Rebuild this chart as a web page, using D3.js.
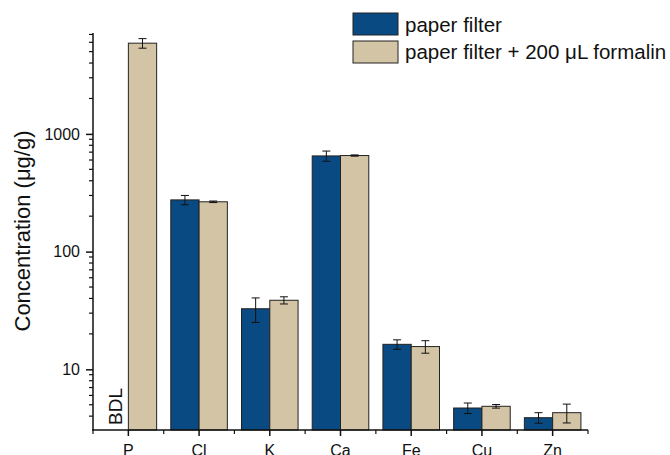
<!DOCTYPE html>
<html><head><meta charset="utf-8">
<script src="https://cdn.jsdelivr.net/npm/d3@7"></script>
<style>body{margin:0;background:#fff}svg{display:block}text{font-family:"Liberation Sans",Arial,sans-serif;fill:#111}</style>
</head><body>
<script>
const categories = ["P","Cl","K","Ca","Fe","Cu","Zn"];
const seriesNames = ["paper filter","paper filter + 200 \u03BCL formalin"];
const paperFilter = [null, 275, 32.7, 650, 16.3, 4.69, 3.88];
const paperFilterErr = [null, 25, 7.7, 65, 1.5, 0.48, 0.4];
const formalin = [5900, 265, 38.6, 655, 15.6, 4.85, 4.28];
const formalinErr = [550, 4, 2.7, 8, 1.9, 0.17, 0.78];
const yTickValues = [10, 100, 1000];
const colors = ["#0a4a82", "#d3c4a5"];

const W = 670, H = 455;
const svg = d3.select("body").append("svg").attr("width", W).attr("height", H);
const x0 = 93, x1 = 588, yTop = 33, yBot = 430;
const x = d3.scaleBand().domain(categories).range([x0, x1]).padding(0);
const groupW = x.bandwidth() * 0.8;
const barW = groupW / 2;
const y = d3.scaleLog().domain([3.05, 7200]).range([yBot, yTop]);

const series = [
  {vals: paperFilter, errs: paperFilterErr},
  {vals: formalin, errs: formalinErr}
];

series.forEach((s, si) => {
  categories.forEach((c, i) => {
    const v = s.vals[i];
    if (v == null) return;
    const bx = x(c) + (x.bandwidth() - groupW) / 2 + si * barW;
    svg.append("rect")
      .attr("x", bx).attr("y", y(v))
      .attr("width", barW).attr("height", yBot - y(v))
      .attr("fill", colors[si]).attr("stroke", "#222").attr("stroke-width", 1);
    const e = s.errs[i];
    const cx = bx + barW / 2;
    const g = svg.append("g").attr("stroke", "#111").attr("stroke-width", 1).attr("fill", "none");
    g.append("line").attr("x1", cx).attr("x2", cx).attr("y1", y(v + e)).attr("y2", y(v - e));
    g.append("line").attr("x1", cx - 4).attr("x2", cx + 4).attr("y1", y(v + e)).attr("y2", y(v + e));
    g.append("line").attr("x1", cx - 4).attr("x2", cx + 4).attr("y1", y(v - e)).attr("y2", y(v - e));
  });
});

// BDL label for P paper filter
{
  const bx = x("P") + (x.bandwidth() - groupW) / 2 + barW / 2;
  svg.append("text").attr("transform", `translate(${bx + 7.5},${yBot - 5}) rotate(-90)`)
    .attr("font-size", 19).text("BDL");
}

// Y axis
const minorTicks = [];
for (let d = 1; d <= 1000; d *= 10) for (let k = 1; k <= 9; k++) {
  const v = d * k; if (v >= 3.05 && v <= 7200 && !yTickValues.includes(v)) minorTicks.push(v);
}
const yAxis = svg.append("g").attr("transform", `translate(${x0},0)`);
yAxis.call(d3.axisLeft(y).tickValues(yTickValues).tickFormat(d3.format("d")).tickSize(7).tickPadding(6));
yAxis.select(".domain").remove();
yAxis.selectAll(".tick line").attr("stroke", "#111").attr("stroke-width", 1.5);
yAxis.selectAll(".tick text").attr("font-size", 16).attr("font-family", "Liberation Sans, Arial, sans-serif").attr("fill", "#111");
yAxis.selectAll(".minor").data(minorTicks).join("line").attr("class", "minor")
  .attr("x1", -4).attr("x2", 0).attr("y1", d => y(d)).attr("y2", d => y(d))
  .attr("stroke", "#111").attr("stroke-width", 1.2);
svg.append("line").attr("x1", x0).attr("x2", x0).attr("y1", yTop).attr("y2", yBot + 0.75)
  .attr("stroke", "#111").attr("stroke-width", 1.5);

// X axis
const xAxis = svg.append("g").attr("transform", `translate(0,${yBot})`);
xAxis.call(d3.axisBottom(x).tickSize(6).tickPadding(9));
xAxis.select(".domain").remove();
xAxis.selectAll(".tick line").attr("stroke", "#111").attr("stroke-width", 1.5);
xAxis.selectAll(".tick text").attr("font-size", 16).attr("font-family", "Liberation Sans, Arial, sans-serif").attr("fill", "#111");
const bounds = categories.map(c => x(c)).concat([x1]);
xAxis.selectAll(".minor").data(bounds).join("line").attr("class", "minor")
  .attr("x1", d => d).attr("x2", d => d).attr("y1", 0).attr("y2", 4)
  .attr("stroke", "#111").attr("stroke-width", 1.2);
svg.append("line").attr("x1", x0 - 0.75).attr("x2", x1).attr("y1", yBot).attr("y2", yBot)
  .attr("stroke", "#111").attr("stroke-width", 1.5);

// Y label
svg.append("text").attr("transform", `translate(30,231) rotate(-90)`)
  .attr("text-anchor", "middle").attr("font-size", 22).text("Concentration (\u03BCg/g)");

// Legend
const legend = svg.append("g").attr("transform", "translate(353,13)");
seriesNames.forEach((n, i) => {
  legend.append("rect").attr("x", 0).attr("y", i * 28).attr("width", 45).attr("height", 22)
    .attr("fill", colors[i]).attr("stroke", "#222").attr("stroke-width", 1);
  legend.append("text").attr("x", 52).attr("y", i * 27 + 19).attr("font-size", 20.5).text(n);
});
</script>
</body></html>
